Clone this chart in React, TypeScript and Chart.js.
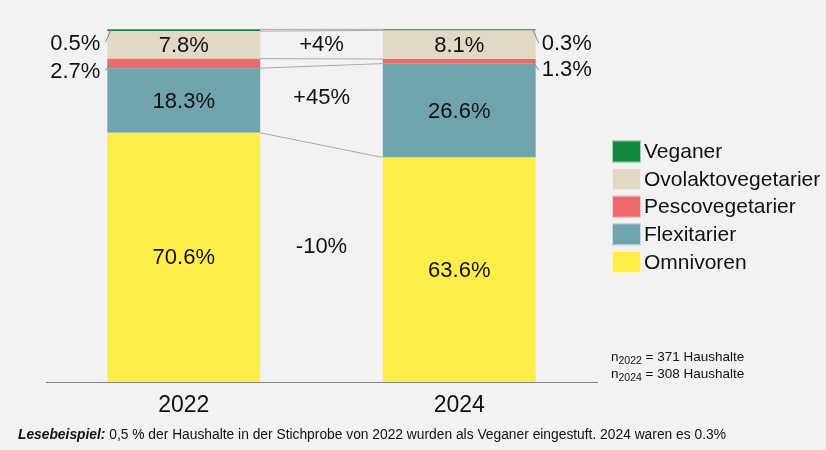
import React, { useEffect, useRef } from "react";
import { Chart, registerables } from "chart.js";

Chart.register(...registerables);

const years = ["2022", "2024"];
const omnivoren = [70.6, 63.6];
const flexitarier = [18.3, 26.6];
const pescovegetarier = [2.7, 1.3];
const ovolaktovegetarier = [7.8, 8.1];
const veganer = [0.5, 0.3];
const changeOmnivoren = "-10%";
const changeFlexitarier = "+45%";
const changeOvolakto = "+4%";
const sampleSizes = [371, 308];
const footnoteBold = "Lesebeispiel:";
const footnoteText = " 0,5 % der Haushalte in der Stichprobe von 2022 wurden als Veganer eingestuft. 2024 waren es 0.3%";

const FONT = "'Liberation Sans', Arial, Helvetica, sans-serif";
const COLORS = {
  veganer: "#11893c",
  ovo: "#e1d8c5",
  pesco: "#ec6a6a",
  flex: "#70a4ad",
  omni: "#ffee4a",
};

const fmt = (v: number) => v.toFixed(1) + "%";

const overlayPlugin = {
  id: "overlay",
  afterDatasetsDraw(chart: any) {
    const ctx = chart.ctx as CanvasRenderingContext2D;
    const yScale = chart.scales.y;
    const metas = chart.data.datasets.map((_: any, i: number) => chart.getDatasetMeta(i));
    const el = (ds: number, idx: number) =>
      metas[ds].data[idx].getProps(["x", "y", "base", "width"], true);

    ctx.save();
    // connector lines between bars at each segment top
    ctx.strokeStyle = "#a8a8a8";
    ctx.lineWidth = 1;
    for (let d = 0; d < metas.length; d++) {
      const a = el(d, 0);
      const b = el(d, 1);
      ctx.beginPath();
      ctx.moveTo(a.x + a.width / 2, a.y);
      ctx.lineTo(b.x - b.width / 2, b.y);
      ctx.stroke();
    }

    // labels inside bars
    ctx.fillStyle = "#111";
    ctx.font = `22px ${FONT}`;
    ctx.textAlign = "center";
    ctx.textBaseline = "middle";
    const inside = [0, 1, 3];
    for (const d of inside) {
      const values = chart.data.datasets[d].data;
      for (let i = 0; i < 2; i++) {
        const e = el(d, i);
        ctx.fillText(fmt(values[i]), e.x, (e.y + e.base) / 2 + 1);
      }
    }

    // side labels with leader lines (pesco = 2, vegan = 4)
    const side = [
      { d: 4, dy: 14, ldyL: 12, ldyR: 13 },
      { d: 2, dy: 8.5, ldyL: 7, ldyR: 9 },
    ];
    ctx.strokeStyle = "#8a8a8a";
    for (const s of side) {
      const values = chart.data.datasets[s.d].data;
      for (let i = 0; i < 2; i++) {
        const e = el(s.d, i);
        const cy = (e.y + e.base) / 2;
        ctx.beginPath();
        if (i === 0) {
          const left = e.x - e.width / 2;
          ctx.moveTo(left + 4, cy - 0.5);
          ctx.lineTo(left - 2, cy + s.ldyL);
          ctx.stroke();
          ctx.textAlign = "right";
          ctx.fillText(fmt(values[i]), left - 7, cy + s.dy);
        } else {
          const right = e.x + e.width / 2;
          ctx.moveTo(right - 3, cy - 0.5);
          ctx.lineTo(right + 3, cy + s.ldyR);
          ctx.stroke();
          ctx.textAlign = "left";
          ctx.fillText(fmt(values[i]), right + 6, cy + s.dy + 0.5);
        }
      }
    }

    // change labels between bars
    ctx.textAlign = "center";
    const midX = (el(0, 0).x + el(0, 1).x) / 2;
    const changes = [
      { t: changeOvolakto, v: 95.4 },
      { t: changeFlexitarier, v: 80.6 },
      { t: changeOmnivoren, v: 38.2 },
    ];
    for (const c of changes) {
      ctx.fillText(c.t, midX, yScale.getPixelForValue(c.v));
    }

    // legend
    const legendItems = [
      { t: "Veganer", c: COLORS.veganer },
      { t: "Ovolaktovegetarier", c: COLORS.ovo },
      { t: "Pescovegetarier", c: COLORS.pesco },
      { t: "Flexitarier", c: COLORS.flex },
      { t: "Omnivoren", c: COLORS.omni },
    ];
    ctx.font = `21px ${FONT}`;
    ctx.textAlign = "left";
    legendItems.forEach((it, k) => {
      const cy = 151.5 + k * 27.6;
      ctx.fillStyle = it.c;
      ctx.fillRect(612, cy - 11, 29, 22);
      ctx.strokeStyle = "rgba(255,255,255,0.6)";
      ctx.strokeRect(612.5, cy - 10.5, 28, 21);
      ctx.fillStyle = "#111";
      ctx.fillText(it.t, 644, cy + 1);
    });

    // sample sizes
    ctx.textBaseline = "alphabetic";
    sampleSizes.forEach((n, k) => {
      const by = 361 + k * 16.5;
      let x = 611;
      ctx.font = `13.5px ${FONT}`;
      ctx.fillText("n", x, by);
      x += ctx.measureText("n").width;
      ctx.font = `10.5px ${FONT}`;
      ctx.fillText(years[k], x, by + 3);
      x += ctx.measureText(years[k]).width;
      ctx.font = `13.5px ${FONT}`;
      ctx.fillText(` = ${n} Haushalte`, x, by);
    });

    // footnote
    let fx = 18;
    const fy = 438.5;
    ctx.font = `italic bold 13.8px ${FONT}`;
    ctx.fillText(footnoteBold, fx, fy);
    fx += ctx.measureText(footnoteBold).width;
    ctx.font = `13.8px ${FONT}`;
    ctx.fillText(footnoteText, fx, fy);

    ctx.restore();
  },
};

export default function App() {
  const ref = useRef<HTMLCanvasElement>(null);
  useEffect(() => {
    document.body.style.margin = "0";
    const chart = new Chart(ref.current!, {
      type: "bar",
      data: {
        labels: years,
        datasets: [
          { label: "Omnivoren", data: omnivoren, backgroundColor: COLORS.omni },
          { label: "Flexitarier", data: flexitarier, backgroundColor: COLORS.flex },
          { label: "Pescovegetarier", data: pescovegetarier, backgroundColor: COLORS.pesco },
          { label: "Ovolaktovegetarier", data: ovolaktovegetarier, backgroundColor: COLORS.ovo },
          { label: "Veganer", data: veganer, backgroundColor: COLORS.veganer },
        ],
      },
      options: {
        responsive: false,
        animation: false,
        devicePixelRatio: 1,
        layout: { padding: { left: 46, right: 229, top: 29, bottom: 0 } },
        datasets: { bar: { categoryPercentage: 1, barPercentage: 0.555 } },
        plugins: { legend: { display: false }, tooltip: { enabled: false } },
        scales: {
          x: {
            stacked: true,
            grid: { display: false, drawTicks: false },
            border: { display: true, color: "#7f7f7f", width: 1 },
            ticks: { color: "#111", font: { family: FONT, size: 23 }, padding: 10 },
            afterFit: (s: any) => {
              s.height = 68;
            },
          },
          y: { stacked: true, display: false, min: 0, max: 100 },
        },
      },
      plugins: [overlayPlugin],
    });
    return () => chart.destroy();
  }, []);
  return (
    <div style={{ position: "absolute", left: 0, top: 0, width: 826, height: 450, background: "#f2f2f2" }}>
      <canvas ref={ref} width={826} height={450} />
    </div>
  );
}
